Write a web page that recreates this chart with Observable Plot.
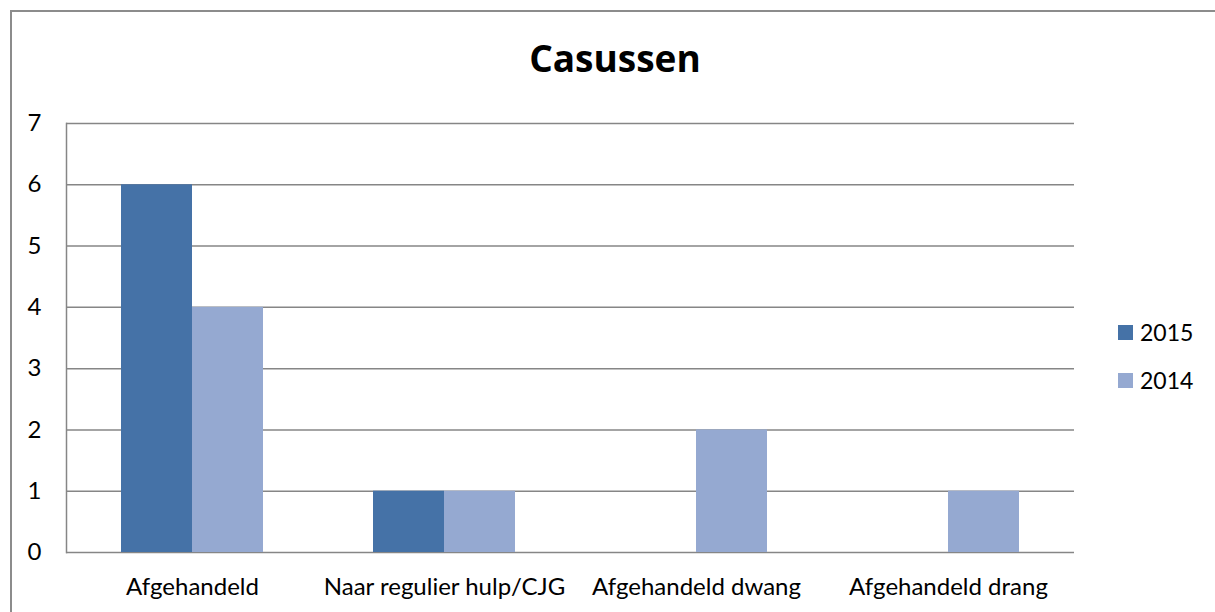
<!DOCTYPE html>
<html><head><meta charset="utf-8">
<script src="https://cdn.jsdelivr.net/npm/d3@7"></script>
<script src="https://cdn.jsdelivr.net/npm/@observablehq/plot@0.6"></script>
<style>
body{margin:0;background:#fff;}
#wrap{position:relative;width:1215px;height:612px;overflow:hidden;font-family:Lato, sans-serif;color:#000;}
#frame{position:absolute;left:10px;top:10px;width:1300px;height:700px;border-top:2px solid #8c8c8c;border-left:2px solid #8c8c8c;box-sizing:border-box;}
#title{position:absolute;top:37px;left:0;width:1230px;text-align:center;font-family:"Open Sans", sans-serif;font-weight:bold;font-size:37px;line-height:42px;}
#legend{position:absolute;left:1118px;top:308px;font-size:23px;}
.item{display:flex;align-items:center;height:48px;}
.sw{width:15px;height:15px;margin-right:7px;}
#chart{position:absolute;left:0;top:0;}
</style></head>
<body>
<div id="wrap">
  <div id="frame"></div>
  <div id="chart"></div>
  <div id="title"></div>
  <div id="legend"></div>
</div>
<script>
const titleText = "Casussen";
const categories = ["Afgehandeld", "Naar regulier hulp/CJG", "Afgehandeld dwang", "Afgehandeld drang"];
const years = ["2015", "2014"];
const values2015 = [6, 1, 0, 0];
const values2014 = [4, 1, 2, 1];
const yTicks = [0, 1, 2, 3, 4, 5, 6, 7];
const colors = ["#4572A7", "#95A9D1"];

const data = categories.flatMap((c, i) => [
  {category: c, year: years[0], value: values2015[i]},
  {category: c, year: years[1], value: values2014[i]}
]);

const chart = Plot.plot({
  width: 1215,
  height: 612,
  marginLeft: 65,
  marginRight: 140,
  marginTop: 123,
  marginBottom: 60,
  style: {fontFamily: "Lato, sans-serif", fontSize: "24px", color: "#000", background: "transparent"},
  fx: {domain: categories, padding: 0, label: null},
  x: {domain: years, paddingInner: 0, paddingOuter: 0.753, axis: null},
  y: {domain: [0, 7], label: null},
  color: {domain: years, range: colors},
  marks: [
    Plot.ruleY(yTicks, {stroke: "#868686", strokeWidth: 1.5}),
    Plot.frame({anchor: "left", stroke: "#868686", strokeWidth: 1.5, facetAnchor: "left"}),
    Plot.barY(data, {fx: "category", x: "year", y: "value", fill: "year"}),
    Plot.axisY(yTicks, {anchor: "left", tickSize: 0, tickPadding: 25, tickFormat: "d", fill: "#000", fontSize: 24, label: null}),
    Plot.axisFx({anchor: "bottom", tickSize: 0, tickPadding: 25, fill: "#000", fontSize: 24, label: null})
  ]
});
document.getElementById("chart").appendChild(chart);
document.getElementById("title").textContent = titleText;

const legend = document.getElementById("legend");
years.forEach((y, i) => {
  const item = document.createElement("div");
  item.className = "item";
  const sw = document.createElement("div");
  sw.className = "sw";
  sw.style.background = colors[i];
  const t = document.createElement("span");
  t.textContent = y;
  item.appendChild(sw);
  item.appendChild(t);
  legend.appendChild(item);
});
</script>
</body></html>
